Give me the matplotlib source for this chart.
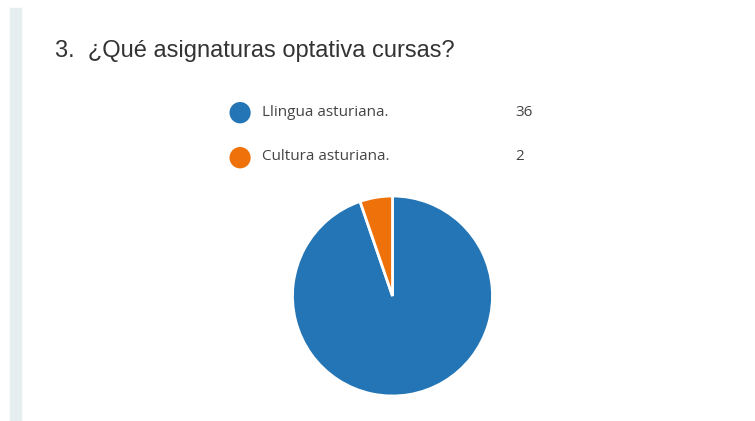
import matplotlib.pyplot as plt
from matplotlib.patches import Rectangle

# survey answers
labels = ['Llingua asturiana.', 'Cultura asturiana.']
counts = [36, 2]
colors = ['#2475b5', '#ef7109']
title = '3.  ¿Qué asignaturas optativa cursas?'

W, H = 755, 421
fig = plt.figure(figsize=(W / 100, H / 100), dpi=100)
fig.patch.set_facecolor('white')

# light side bar on the left
fig.patches.append(Rectangle((10 / W, 0), 11 / W, (H - 8) / H,
                             transform=fig.transFigure, color='#e5eff0', zorder=0))

fig.text(55 / W, 1 - 51 / H, title, fontsize=17, color='#333333',
         family='Liberation Sans', va='center', ha='left')

# legend rows
for i, (lab, n, c) in enumerate(zip(labels, counts, colors)):
    y = 1 - (112 + 45 * i) / H
    fig.text(240 / W, y, '\u25cf', fontsize=20, color=c, ha='center', va='center',
             family='DejaVu Sans')
    fig.text(262 / W, y, lab, fontsize=11, color='#444444', ha='left', va='center',
             family='Open Sans')
    fig.text(515 / W, y, str(n), fontsize=11, color='#444444', ha='left', va='center',
             family='Open Sans')

ax = fig.add_axes([292.5 / W, 25 / H, 200 / W, 200 / H])
ax.pie(counts, colors=colors, startangle=90, counterclock=False,
       wedgeprops={'edgecolor': 'white', 'linewidth': 2})
ax.set_xlim(-1, 1)
ax.set_ylim(-1, 1)
ax.set_aspect('equal')

fig.savefig('out.png', dpi=100)
